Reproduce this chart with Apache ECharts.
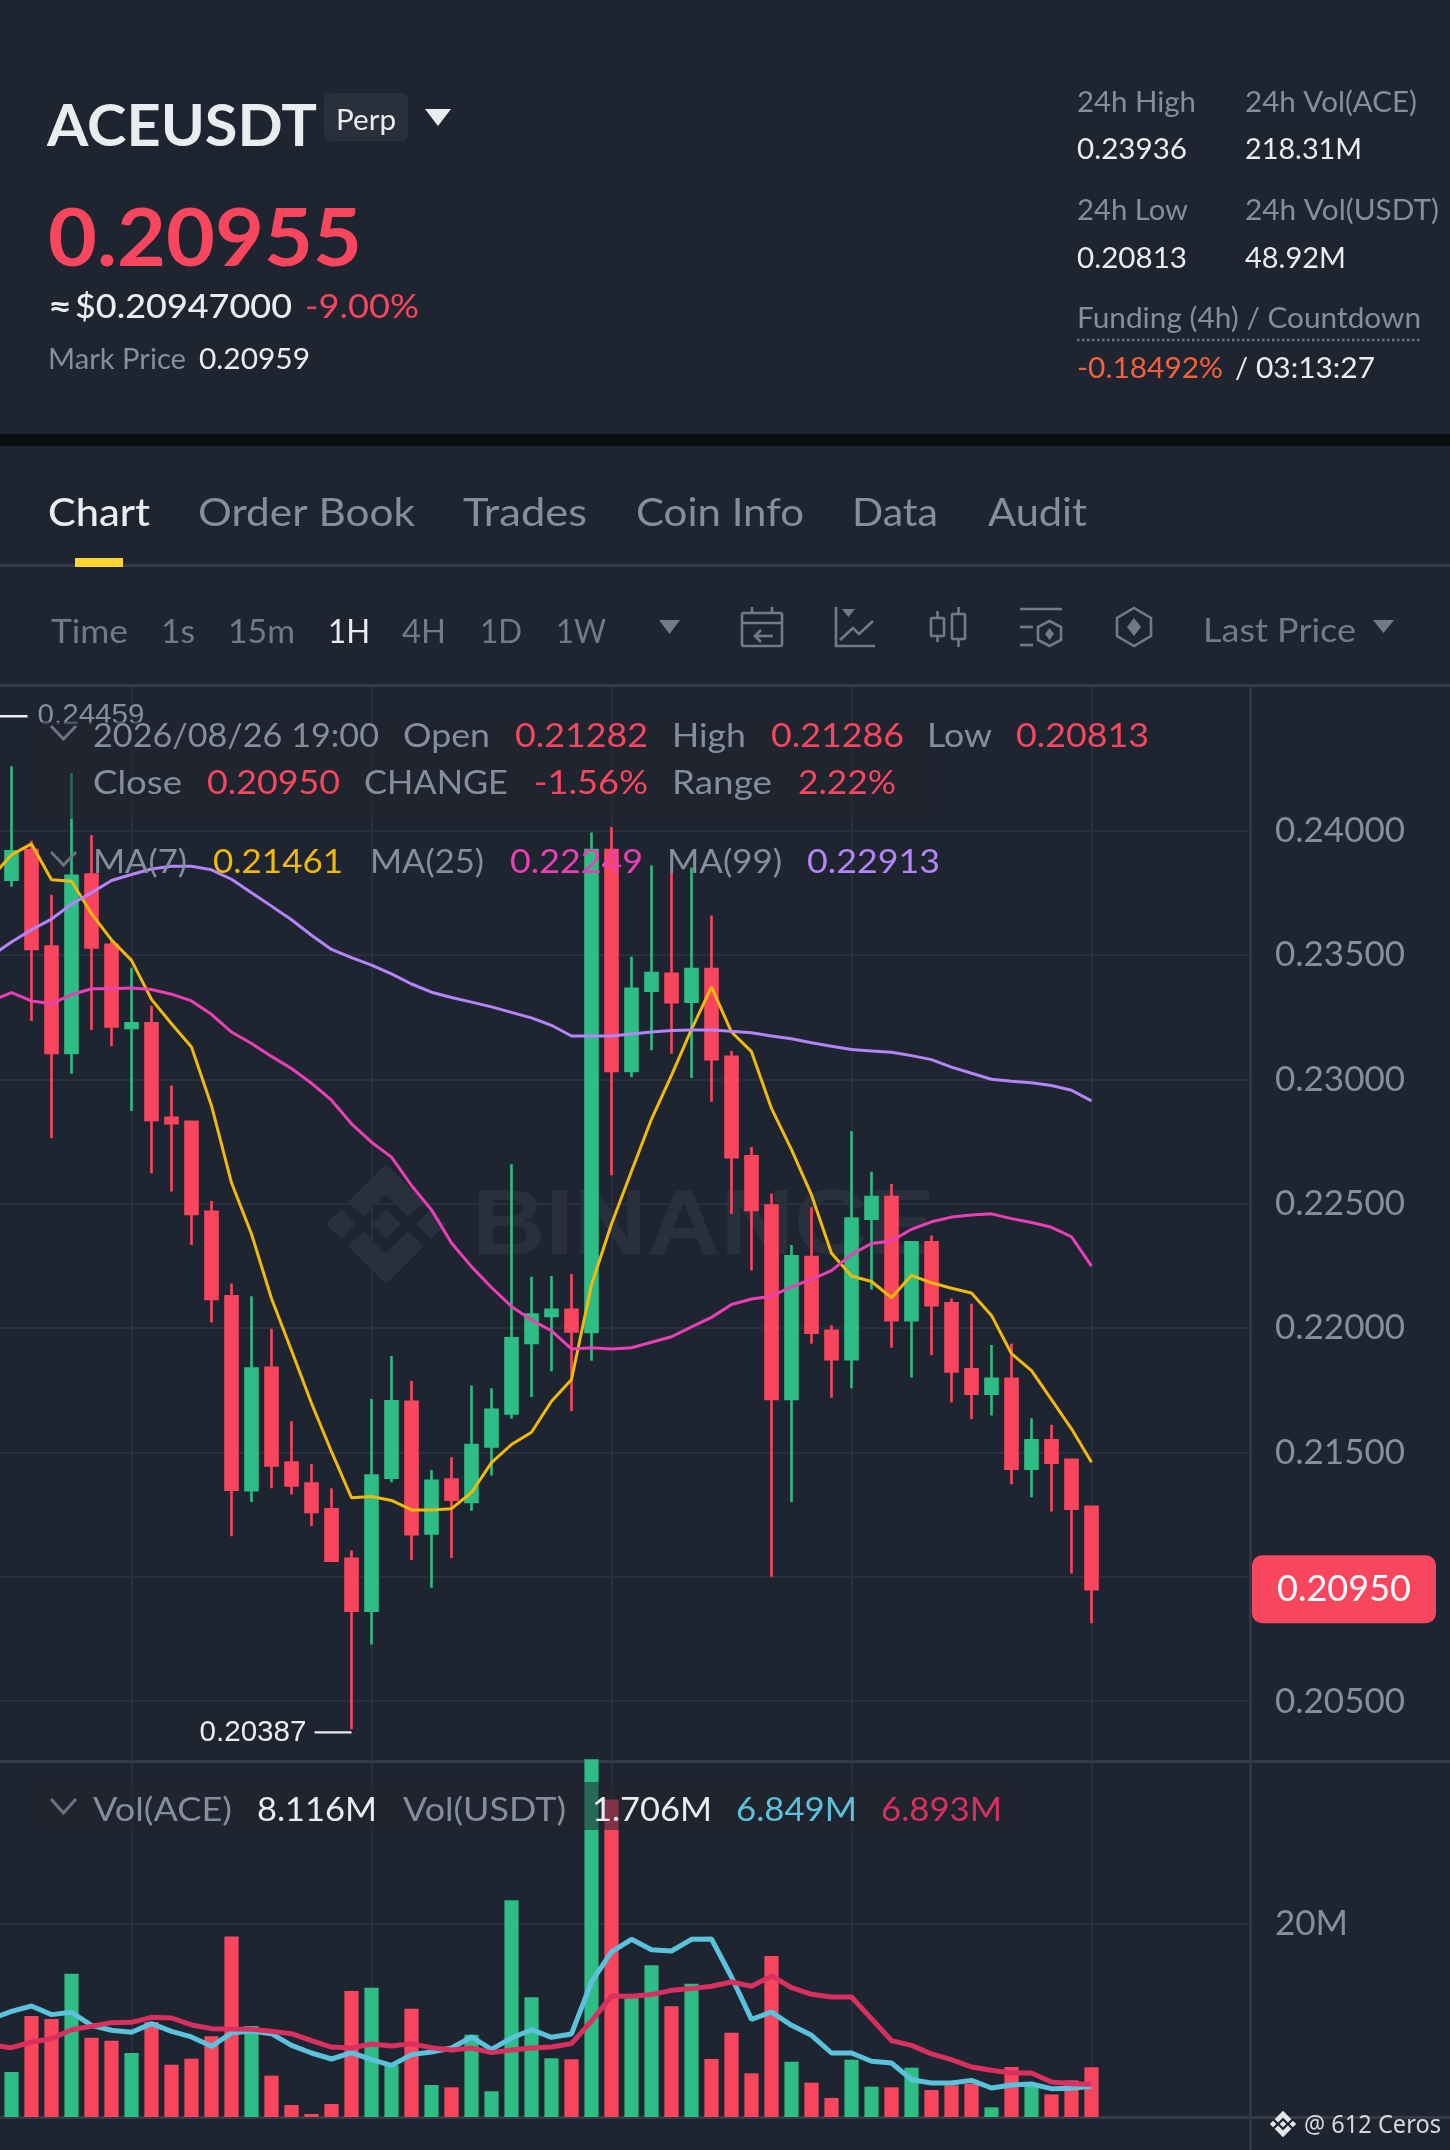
<!DOCTYPE html>
<html><head><meta charset="utf-8">
<style>html,body{margin:0;padding:0;background:#1F2530}#c{width:1450px;height:2150px}</style>
<script src="https://cdn.jsdelivr.net/npm/echarts@6/dist/echarts.min.js"></script>
</head><body><div id="c"></div>
<script>
// ---------- data (first entry sits just off the left edge) ----------
const opens=[.2391,
.23802,.23921,.23533,.23106,.23823,.23541,.23206,.23225,.22845,.22829,
.22467,.22128,.21348,.2184,.21459,.21375,.21272,.21073,.20864,.21399,
.21704,.21174,.21391,.21301,.21524,.21657,.2194,.22049,.22073,.21984,
.23921,.23033,.23356,.23424,.23312,.23443,.2309,.2269,.22492,.21715,
.22285,.21989,.21875,.2244,.22527,.22032,.22345,.221,.21834,.21736,
.21796,.21435,.21549,.2147,.21282];
const closes=[.2377,
.23916,.23524,.23106,.23818,.2353,.23212,.23225,.22837,.22823,.22459,
.22117,.2135,.21837,.21448,.21367,.21261,.21065,.20864,.21407,.21706,
.21171,.21386,.2131,.2153,.21671,.21959,.22054,.22073,.21986,.23921,
.23033,.23364,.23427,.2331,.23443,.23081,.22687,.22475,.21715,.22288,
.21981,.21875,.2244,.22527,.22032,.22345,.22092,.21826,.21736,.21796,
.21435,.21549,.21459,.21274,.2095];
const highs=[.24459,
.24258,.23959,.23742,.24231,.23981,.2356,.23448,.23296,.22975,.22829,
.22511,.22179,.22128,.21997,.21625,.21454,.21356,.21106,.21715,.21888,
.21788,.21429,.21481,.21769,.21758,.22658,.22206,.22209,.22217,.23992,
.24014,.23492,.23859,.23832,.23851,.23658,.23114,.22728,.22541,.22334,
.22486,.22011,.22791,.22628,.22579,.22345,.22372,.22119,.22098,.21932,
.21937,.21638,.21611,.2147,.21286];
const lows=[.2366,
.23774,.23234,.22763,.23022,.23198,.23133,.22872,.22622,.22549,.22334,
.22022,.21163,.21301,.21356,.21331,.21204,.21065,.20387,.20728,.2138,
.21068,.20956,.21076,.21266,.21407,.21636,.21723,.21826,.21666,.21869,
.22614,.23008,.23117,.23103,.23005,.2291,.22459,.22231,.21,.21301,
.21937,.2172,.21758,.22155,.21921,.21801,.21891,.21701,.21633,.21649,
.21372,.2132,.21263,.21013,.20813];
const ma7=[.23812,.23902,.23946,.23802,.23796,.23666,.2356,.23478,.23321,.23223,.2313,
.22894,.22584,.22378,.22119,.2191,.21698,.21503,.21318,.21323,.21307,
.21269,.21269,.21274,.21339,.21459,.21532,.21581,.21706,.21793,.22174,
.22418,.2263,.2284,.23016,.23201,.2337,.2319,.23111,.22883,.22717,
.22535,.22301,.22209,.22187,.22122,.22212,.22182,.2216,.22141,.22051,
.21897,.21829,.21712,.21595,.21461];
const ma25=[.23315,.23348,.23315,.23304,.2334,.23364,.23364,.23367,.23361,.23342,.23315,
.23261,.2319,.23144,.23092,.23043,.22984,.22916,.22821,.22747,.22687,
.22573,.22475,.22342,.22247,.22163,.22087,.22032,.21989,.21916,.21921,
.21916,.21921,.21943,.21965,.22005,.22043,.22095,.22117,.22128,.22166,
.22196,.22231,.22296,.2234,.2235,.22397,.22427,.22446,.22454,.22459,
.2244,.22424,.22405,.22367,.22249];
const ma99=[.23497,.23552,.23601,.23644,.23704,.2375,.23799,.23823,.23845,.23856,.23856,
.23842,.23804,.2375,.23696,.23641,.23579,.23522,.23489,.23459,.23424,
.23383,.2335,.23329,.2331,.23291,.23269,.23247,.23217,.23174,.23174,
.23174,.23182,.2319,.23196,.23198,.23198,.23193,.23187,.23174,.23163,
.23147,.23133,.2312,.23114,.23109,.23095,.23079,.23049,.23024,.23,
.22992,.22986,.22975,.22956,.22913];
const volumes=[5,
4.66,10.45,10.14,14.83,8.21,7.9,6.62,9.83,5.41,6.03,
8.34,18.66,9.41,4.28,1.24,.31,1.34,13.03,13.38,5.34,
11.21,3.31,3.07,8.52,2.66,22.41,12.38,6.07,5.97,37,
32.83,12.41,15.69,11.45,13.79,6,8.72,4.52,16.66,5.72,
3.55,1.97,5.93,3.14,3.07,5.1,2.79,3.28,3.45,1,
5.17,3.28,2.34,3.79,5.14];
const volMaBlue=[10.17,10.93,11.48,10.59,10.83,9.48,8.97,8.76,9.66,8.86,8.28,
7.31,8.69,8.9,8.62,7.41,6.62,6,6.66,5.93,5.34,
6.45,6.72,7.14,8.28,7,8.17,9.03,8.24,8.59,13.97,
17.07,18.38,17.31,17.17,18.38,18.41,14.48,10.1,10.86,9.48,
8.45,6.62,6.62,5.76,5.59,3.86,3.52,3.52,3.79,3,
3.31,3.41,2.93,2.97,3.17];
const volMaRed=[7.41,7.17,7.76,8.1,9.03,9.38,9.76,9.79,10.31,10.24,9.52,
9.14,9.1,9.07,8.86,8.62,7.9,7.24,7.14,7.55,7.34,
7.59,7.17,6.93,7.14,6.66,6.93,7.14,7.24,7.59,9.93,
12.52,12.48,12.66,13.1,13.28,13.52,13.97,13.52,14.59,13.38,
12.69,12.41,12.41,10.17,7.9,7.41,6.52,5.93,5.17,4.83,
4.55,4.55,3.62,3.45,3.38];
const priceTicks=[.205,.21,.215,.22,.225,.23,.235,.24];
const volTicks=[20];
const lastPrice=.2095, lowMark=.20387, highMark=.24459;
const categories=[];
for(let i=0;i<64;i++){const d=new Date(Date.UTC(2026,7,26,19)+(i-55)*36e5);
  categories.push(d.toISOString().slice(0,16).replace('T',' '));}

// ---------- style ----------
const BG='#1F2530',RED='#F8465F',GRN='#2EBD85',GRAY='#848E9C',DIM='#717A89',WHITE='#EAECEF',
      GRID='#2A303B',SEP='#343A46',FONT='Lato';
const mc=document.createElement('canvas').getContext('2d');
function T(text,x,base,size,fill,w,weight,family){
  weight=weight||'normal';family=family||FONT;
  mc.font=weight+' '+size+'px "'+family+'"';
  const m=mc.measureText(text).width;
  return {type:'text',x:x,y:base-size*0.295,z:20,scaleX:w?w/m:1,silent:true,
    style:{text:text,fontSize:size,fontFamily:family,fontWeight:weight,fill:fill,align:'left',verticalAlign:'middle'}};
}
const L=(x1,y1,x2,y2,c,w,z,dash)=>({type:'line',z:z==null?15:z,silent:true,shape:{x1,y1,x2,y2},style:{stroke:c,lineWidth:w,lineDash:dash||null}});
const P=(pts,c,z)=>({type:'polygon',z:z==null?15:z,silent:true,shape:{points:pts},style:{fill:c}});
const PL=(pts,c,w)=>({type:'polyline',z:15,silent:true,shape:{points:pts},style:{stroke:c,lineWidth:w,fill:null}});
const PG=(pts,c,w)=>({type:'polygon',z:15,silent:true,shape:{points:pts},style:{stroke:c,lineWidth:w,fill:null}});
const R=(x,y,w,h,c,r,z,op)=>({type:'rect',z:z==null?1:z,silent:true,shape:{x,y,width:w,height:h,r:r||0},style:{fill:c,opacity:op==null?1:op}});
const RS=(x,y,w,h,c,lw,r)=>({type:'rect',z:15,silent:true,shape:{x,y,width:w,height:h,r:r||0},style:{stroke:c,lineWidth:lw,fill:null}});
function logo(cx,cy,s,c,z){
  const p=a=>a.map(q=>[cx+q[0]*s,cy+q[1]*s]);
  return [
   P(p([[-38,-22],[0,-60],[38,-22],[22,-7],[0,-29],[-22,-7]]),c,z),
   P(p([[-38,22],[0,60],[38,22],[22,7],[0,29],[-22,7]]),c,z),
   P(p([[0,-15],[15,0],[0,15],[-15,0]]),c,z),
   P(p([[-45,-15],[-30,0],[-45,15],[-60,0]]),c,z),
   P(p([[45,-15],[60,0],[45,15],[30,0]]),c,z)];
}
const chevron=(x1,x2,y1,y2)=>PL([[x1,y1],[(x1+x2)/2,y2],[x2,y1]],'#6B7382',3);

const graphicEls=[
  // header
  R(0,434,1450,12,'#0B0E11',0,1),
  R(324,93,84,48,'#2A303B',6,1),
  T('ACEUSDT',47,144,57,WHITE,270,'bold'),
  T('Perp',336,129,28,WHITE,60),
  P([[425,109],[451,109],[438,126]],WHITE),
  T('0.20955',48,264,80,RED,314,'bold'),
  T('≈',48,317,32,WHITE,24,'bold'),
  T('$0.20947000',75,317,32,WHITE,217,'500'),
  T('-9.00%',305,317,32,RED,114),
  T('Mark Price',48,368,29,GRAY,138),
  T('0.20959',199,368,29,WHITE,111),
  T('24h High',1077,111,29,GRAY,119),
  T('24h Vol(ACE)',1245,111,29,GRAY,172),
  T('0.23936',1077,158,29,WHITE,110),
  T('218.31M',1245,158,29,WHITE,117),
  T('24h Low',1077,219,29,GRAY,111),
  T('24h Vol(USDT)',1245,219,29,GRAY,194),
  T('0.20813',1077,267,29,WHITE,110),
  T('48.92M',1245,267,29,WHITE,101),
  T('Funding (4h) / Countdown',1077,327,29,GRAY,344),
  L(1077,340,1422,340,'#6B7382',2.5,15,[2.5,2.5]),
  T('-0.18492%',1077,377,29,'#F6603A',146),
  T('/',1235,377,29,WHITE),
  T('03:13:27',1256,377,29,WHITE,119),
  // tabs
  T('Chart',48,525,38,WHITE,102,'500'),
  T('Order Book',198,525,38,GRAY,217),
  T('Trades',463,525,38,GRAY,124),
  T('Coin Info',636,525,38,GRAY,168),
  T('Data',852,525,38,GRAY,86),
  T('Audit',988,525,38,GRAY,99),
  L(0,565.5,1450,565.5,SEP,3,1),
  R(75,558,48,9,'#FCD535',0,15),
  // toolbar
  T('Time',51,642,33,DIM,77),T('1s',161,642,33,DIM,34),T('15m',228,642,33,DIM,67),
  T('1H',328,642,33,WHITE,42),T('4H',402,642,33,DIM,44),T('1D',480,642,33,DIM,42),T('1W',556,642,33,DIM,50),
  P([[659,620],[680,620],[669.5,634]],DIM),
  RS(742,613,40,33,DIM,2.6,2),L(742,623,782,623,DIM,2.6),L(752,607,752,613,DIM,2.6),L(772,607,772,613,DIM,2.6),
  L(755,636,773,636,DIM,2.6),PL([[761,630],[755,636],[761,642]],DIM,2.6),
  PL([[836,607],[836,646],[875,646]],DIM,2.6),P([[842,609],[855,609],[848.5,617]],DIM),
  PL([[840,640],[853,628],[859,634],[873,621]],DIM,2.6),
  RS(931,618,13,18,DIM,2.6,1),L(937.5,611,937.5,618,DIM,2.6),L(937.5,636,937.5,642,DIM,2.6),
  RS(952,614,13,25,DIM,2.6,1),L(958.5,607,958.5,614,DIM,2.6),L(958.5,639,958.5,647,DIM,2.6),
  L(1020,609,1062,609,DIM,2.6),L(1020,627,1033,627,DIM,2.6),L(1020,645,1033,645,DIM,2.6),
  PG([[1049.5,621],[1061,627],[1061,640],[1049.5,646],[1038,640],[1038,627]],DIM,2.6),
  P([[1049.5,628],[1054,634],[1049.5,640],[1045,634]],DIM),
  PG([[1134,608],[1151,618],[1151,636],[1134,646],[1117,636],[1117,618]],DIM,2.6),
  P([[1134,618],[1141,627],[1134,636],[1127,627]],DIM),
  T('Last Price',1203,641,33,DIM,153),
  P([[1373,620],[1394,620],[1383.5,633]],DIM),
  // panes
  L(0,685.5,1450,685.5,SEP,3,3),
  L(0,1761.5,1450,1761.5,SEP,3,3),
  L(0,2117.5,1450,2117.5,SEP,3,3),
  L(1250.5,685,1250.5,2150,SEP,2.5,3),
  // watermark
  ...logo(386,1224,1,'#2A303B',1),
  Object.assign(T('BINANCE',472,1256,92,'#2A303B',null,'bold','Liberation Sans'),{z:1,scaleX:1.105}),
  // legend dim bands
  R(40,722,890,97,BG,0,8,.55),
  R(40,1782,970,48,BG,0,8,.55),
  // legends
  chevron(51,76,726,739),
  T('2026/08/26 19:00',93,746,33,GRAY,286),
  T('Open',403,746,33,GRAY,87),T('0.21282',515,746,33,RED,133),
  T('High',672,746,33,GRAY,74),T('0.21286',771,746,33,RED,133),
  T('Low',927,746,33,GRAY,65),T('0.20813',1016,746,33,RED,133),
  T('Close',93,793,33,GRAY,89),T('0.20950',207,793,33,RED,133),
  T('CHANGE',364,793,33,GRAY,144),T('-1.56%',534,793,33,RED,114),
  T('Range',672,793,33,GRAY,100),T('2.22%',798,793,33,RED,98),
  chevron(51,76,852,865),
  T('MA(7)',93,872,33,GRAY,94),T('0.21461',213,872,33,'#F0B90B',130),
  T('MA(25)',370,872,33,GRAY,114),T('0.22249',510,872,33,'#EB40B5',133),
  T('MA(99)',667,872,33,GRAY,115),T('0.22913',807,872,33,'#B385F8',133),
  chevron(51,76,1799,1813),
  T('Vol(ACE)',93,1820,33,GRAY,139),T('8.116M',257,1820,33,WHITE,120),
  T('Vol(USDT)',403,1820,33,GRAY,163),T('1.706M',592,1820,33,WHITE,120),
  T('6.849M',736,1820,33,'#5BC2DC',121),T('6.893M',881,1820,33,'#D9305F',121),
  // footer
  ...logo(1283,2124,0.22,'#E4E6EA',20),
  T('@ 612 Ceros',1304,2133,26,'#D5D8DD',137,'normal','Noto Sans')
];

const vIdx=(i)=>i>=7&&i<=55&&(i-7)%12===0;
const axisLabel={color:GRAY,fontFamily:FONT,fontSize:35,margin:23.5,verticalAlign:'middle',padding:[0,0,4,0]};
const option={
  animation:false,backgroundColor:BG,
  graphic:{elements:graphicEls},
  grid:[
    {left:-8.5,top:685,width:1260,height:1076.7,outerBoundsMode:'none'},
    {left:-8.5,top:1759.3,width:1260,height:357.7,outerBoundsMode:'none'}
  ],
  xAxis:[0,1].map(g=>({type:'category',gridIndex:g,data:categories,boundaryGap:false,
    axisLabel:{show:false},axisTick:{show:false},axisLine:{show:false},
    splitLine:{show:true,interval:(i)=>vIdx(i),lineStyle:{color:GRID,width:2}}})),
  yAxis:[
    {type:'value',gridIndex:0,position:'right',min:.20257,max:.245848,scale:true,
     axisLine:{show:false},axisTick:{show:false,customValues:priceTicks},
     axisLabel:Object.assign({customValues:priceTicks,formatter:v=>v.toFixed(5)},axisLabel),
     splitLine:{show:true,lineStyle:{color:GRID,width:2}}},
    {type:'value',gridIndex:1,position:'right',min:0,max:37,
     axisLine:{show:false},axisTick:{show:false,customValues:volTicks},
     axisLabel:Object.assign({customValues:volTicks,formatter:v=>v+'M'},axisLabel),
     splitLine:{show:true,lineStyle:{color:GRID,width:2}}}
  ],
  series:[
    {type:'candlestick',name:'Price',xAxisIndex:0,yAxisIndex:0,barWidth:11.6,z:3,
     data:opens.map((o,i)=>[o,closes[i],lows[i],highs[i]]),
     itemStyle:{color:GRN,color0:RED,borderColor:GRN,borderColor0:RED,borderWidth:2.6},
     markPoint:{silent:true,animation:false,data:[
       {coord:[17+1,lowMark],symbol:'rect',symbolSize:[37,2.4],symbolOffset:[-18.5,3],itemStyle:{color:'#EAECEF'},
        label:{show:true,position:'left',distance:8,formatter:lowMark.toFixed(5),color:'#EAECEF',fontSize:29.6,fontFamily:'Liberation Sans'}},
       {coord:[0,highMark],symbol:'rect',symbolSize:[36,2.4],symbolOffset:[18,0],itemStyle:{color:'#EAECEF'},
        label:{show:true,position:'right',distance:10,formatter:highMark.toFixed(5),color:GRAY,fontSize:29.6,fontFamily:'Liberation Sans'}},
       {coord:[55,lastPrice],symbol:'rect',symbolSize:[1,1],itemStyle:{color:'rgba(0,0,0,0)'},
        label:{show:true,position:'inside',offset:[252.5,0],formatter:lastPrice.toFixed(5),color:'#fff',fontSize:36,fontFamily:FONT,
          backgroundColor:RED,borderRadius:10,width:184,height:68,lineHeight:68,align:'center',verticalAlign:'middle'}}
     ]}},
    {type:'line',name:'MA(7)',xAxisIndex:0,yAxisIndex:0,data:ma7,symbol:'none',z:4,lineStyle:{color:'#F0B90B',width:3}},
    {type:'line',name:'MA(25)',xAxisIndex:0,yAxisIndex:0,data:ma25,symbol:'none',z:4,lineStyle:{color:'#EB40B5',width:3}},
    {type:'line',name:'MA(99)',xAxisIndex:0,yAxisIndex:0,data:ma99,symbol:'none',z:4,lineStyle:{color:'#B385F8',width:3}},
    {type:'bar',name:'Vol',xAxisIndex:1,yAxisIndex:1,barWidth:14.2,z:3,data:volumes,
     itemStyle:{color:p=>closes[p.dataIndex]>=opens[p.dataIndex]?GRN:RED}},
    {type:'line',name:'Vol MA blue',xAxisIndex:1,yAxisIndex:1,data:volMaBlue,symbol:'none',z:4,lineStyle:{color:'#5BC2DC',width:5}},
    {type:'line',name:'Vol MA red',xAxisIndex:1,yAxisIndex:1,data:volMaRed,symbol:'none',z:5,lineStyle:{color:'#D9305F',width:5}}
  ]
};
const chart=echarts.init(document.getElementById('c'),null,{renderer:'canvas',width:1450,height:2150});
chart.setOption(option);
</script></body></html>
